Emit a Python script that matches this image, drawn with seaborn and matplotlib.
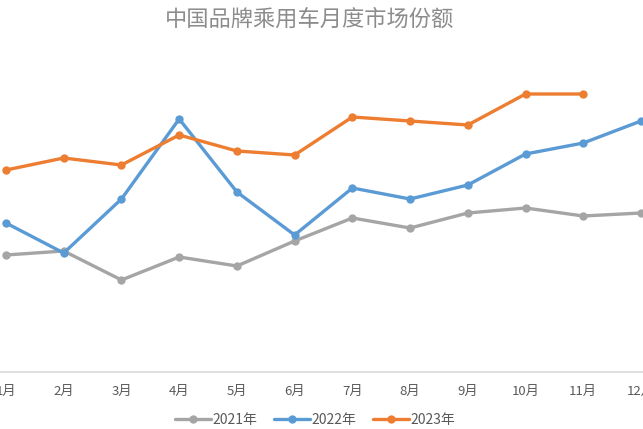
import matplotlib
matplotlib.use("Agg")
import matplotlib.pyplot as plt
import seaborn as sns
import pandas as pd

months = ["1月", "2月", "3月", "4月", "5月", "6月", "7月", "8月", "9月", "10月", "11月", "12月"]
years = ["2021年", "2022年", "2023年"]
share_2021 = [41.7, 42.1, 39.2, 41.5, 40.6, 43.1, 45.4, 44.4, 45.9, 46.4, 45.6, 45.9]
share_2022 = [44.9, 41.9, 47.3, 55.3, 48.0, 43.7, 48.4, 47.3, 48.7, 51.8, 52.9, 55.1]
share_2023 = [50.2, 51.4, 50.7, 53.7, 52.1, 51.7, 55.5, 55.1, 54.7, 57.8, 57.8]
colors = ["#A5A5A5", "#5B9BD5", "#ED7D31"]

rows = []
for yr, vals in zip(years, [share_2021, share_2022, share_2023]):
    for i, v in enumerate(vals):
        rows.append({"month": i + 1, "share": v, "year": yr})
df = pd.DataFrame(rows)

sns.set_theme(style="white")
plt.rcParams["font.family"] = ["Noto Sans CJK SC", "DejaVu Sans"]

fig = plt.figure(figsize=(6.43, 4.29), dpi=100)
ax = fig.add_axes([0, 57 / 429, 1, 327 / 429])

sns.lineplot(data=df, x="month", y="share", hue="year", hue_order=years,
             palette=colors, marker="o", markersize=6, markeredgewidth=0,
             linewidth=2.4, ax=ax, legend=True)

ax.set_xlim(1 - 6 / 57.7, 12 + 2 / 57.7)
ax.set_ylim(30, 62.7)
ax.set_xticks(range(1, 13))
ax.set_xticklabels(months, color="#595959", fontsize=9.5)
ax.tick_params(axis="x", length=0, pad=9)
ax.set_yticks([])
ax.set_xlabel("")
ax.set_ylabel("")
for s in ["top", "left", "right"]:
    ax.spines[s].set_visible(False)
ax.spines["bottom"].set_color("#D9D9D9")
ax.spines["bottom"].set_linewidth(1.2)

handles, labels = ax.get_legend_handles_labels()
ax.legend_.remove()
fig.legend(handles, labels, loc="lower center", bbox_to_anchor=(0.49, -0.025),
           ncol=3, frameon=False, fontsize=10, labelcolor="#595959",
           handlelength=2.6, handletextpad=0.1, columnspacing=1.2)

fig.text(0.482, 0.955, "中国品牌乘用车月度市场份额", ha="center", va="center",
         fontsize=16, color="#8C8C8C")

fig.savefig("out.png", dpi=100)
